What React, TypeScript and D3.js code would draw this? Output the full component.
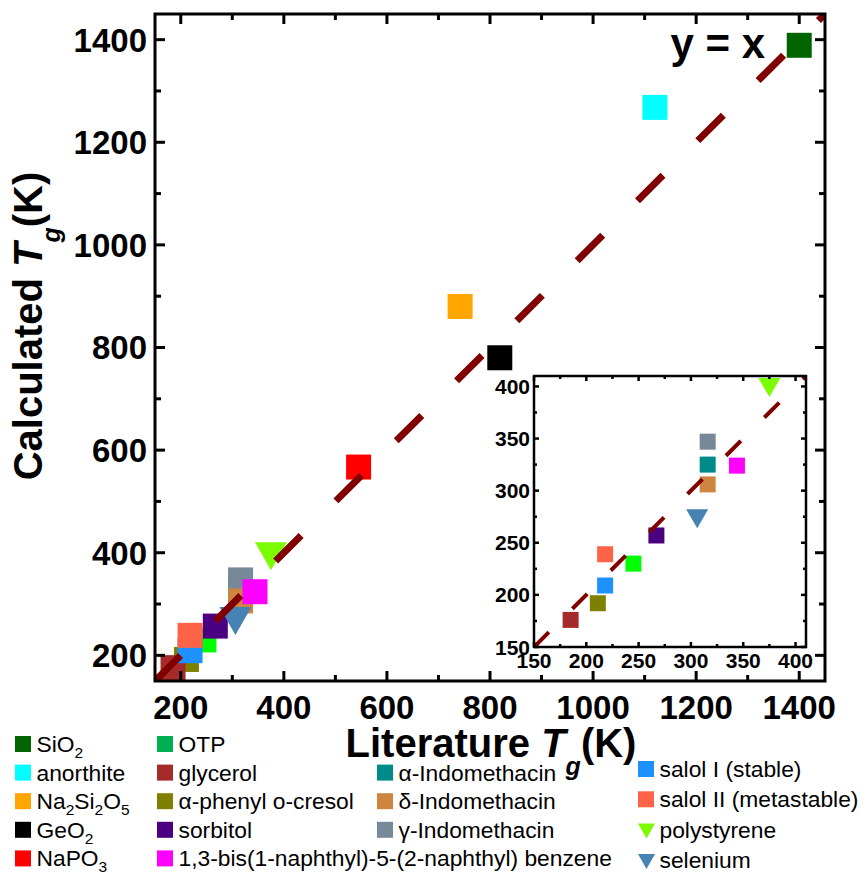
import React from 'react';
import * as d3 from 'd3';

// series, in legend order
const names = [
  'SiO_2', 'anorthite', 'Na_2Si_2O_5', 'GeO_2', 'NaPO_3',
  'OTP', 'glycerol', 'α-phenyl o-cresol', 'sorbitol', '1,3-bis(1-naphthyl)-5-(2-naphthyl) benzene',
  'α-Indomethacin', 'δ-Indomethacin', 'γ-Indomethacin',
  'salol I (stable)', 'salol II (metastable)', 'polystyrene', 'selenium',
];
const colors = [
  '#006400', '#00FFFF', '#FFA500', '#000000', '#FF0000',
  '#00FF00', '#A52A2A', '#808000', '#4B0082', '#FF00FF',
  '#008B8B', '#CD853F', '#778899',
  '#1E90FF', '#FF6347', '#7CFC00', '#4682B4',
];
const legendColors = colors.map((c, i) => (names[i] === 'OTP' ? '#00B050' : c));
const shapes = names.map(n => (n === 'polystyrene' || n === 'selenium' ? 'tri' : 'sq'));

const literatureTg = [1400, 1120, 742, 819, 545, 245, 185, 211, 267, 344, 316, 316, 316, 218, 218, 375, 306];
const calculatedTg = [1389, 1268, 880, 780, 567, 230, 176, 192, 257, 324, 325, 306, 347, 209, 239, 402, 276];

// order the markers are painted in (later on top)
const drawOrder = [0, 1, 2, 3, 4, 5, 7, 6, 8, 13, 14, 10, 12, 11, 9, 16, 15];

const mainDomain = [150, 1450];
const mainMajor = [200, 400, 600, 800, 1000, 1200, 1400];
const mainMinor = [300, 500, 700, 900, 1100, 1300];
const insetDomain = [150, 410];
const insetMajor = [150, 200, 250, 300, 350, 400];
const insetMinor = [175, 225, 275, 325, 375];

const FONT = "'Liberation Sans', Arial, Helvetica, sans-serif";
const LINE = '#800000';

function rich(name: string, sub: number, shift: number) {
  const parts = name.split(/_(\d)/);
  return parts.map((p, i) =>
    i % 2 === 1 ? (
      <tspan key={i} fontSize={sub} dy={shift}>{p}</tspan>
    ) : (
      <tspan key={i} dy={i > 0 ? -shift : 0}>{p}</tspan>
    )
  );
}

function marker(shape: string, x: number, y: number, s: number, tw: number, th: number, color: string, key: any) {
  if (shape === 'tri') {
    const pts = [[x - tw / 2, y - th / 3], [x + tw / 2, y - th / 3], [x, y + (2 * th) / 3]];
    return <polygon key={key} points={pts.map(p => p.join(',')).join(' ')} fill={color} />;
  }
  return <rect key={key} x={x - s / 2} y={y - s / 2} width={s} height={s} fill={color} />;
}

function Frame({ box, domain, major, minor, majLen, minLen, sw, fontSize, labelGap, labelBase, lineW, dash, sq, tw, th, id, showYx }: any) {
  const x = d3.scaleLinear().domain(domain).range([box.left, box.right]);
  const y = d3.scaleLinear().domain(domain).range([box.bottom, box.top]);
  const diag = d3.line<number>().x(d => x(d)).y(d => y(d))([domain[0], domain[1]]) || '';
  const ticks: any[] = [];
  const addTicks = (vals: number[], len: number, cls: string) => {
    vals.forEach(v => {
      ticks.push(<line key={cls + 'b' + v} x1={x(v)} x2={x(v)} y1={box.bottom} y2={box.bottom - len} />);
      ticks.push(<line key={cls + 't' + v} x1={x(v)} x2={x(v)} y1={box.top} y2={box.top + len} />);
      ticks.push(<line key={cls + 'l' + v} x1={box.left} x2={box.left + len} y1={y(v)} y2={y(v)} />);
      ticks.push(<line key={cls + 'r' + v} x1={box.right} x2={box.right - len} y1={y(v)} y2={y(v)} />);
    });
  };
  addTicks(major, majLen, 'M');
  addTicks(minor, minLen, 'm');
  return (
    <g>
      <defs>
        <clipPath id={id}>
          <rect x={box.left} y={box.top} width={box.right - box.left} height={box.bottom - box.top} />
        </clipPath>
      </defs>
      <rect x={box.left} y={box.top} width={box.right - box.left} height={box.bottom - box.top} fill="#fff" />
      <g clipPath={`url(#${id})`}>
        {drawOrder.map(i =>
          marker(shapes[i], x(literatureTg[i]), y(calculatedTg[i]), sq, tw, th, colors[i], i)
        )}
        <path d={diag} stroke={LINE} strokeWidth={lineW} strokeDasharray={dash} fill="none" />
      </g>
      {showYx && (
        <text x={765} y={58} fontSize={42} fontWeight="bold" textAnchor="end" fontFamily={FONT}>y = x</text>
      )}
      <g stroke="#000" strokeWidth={sw}>{ticks}</g>
      <rect x={box.left} y={box.top} width={box.right - box.left} height={box.bottom - box.top} fill="none" stroke="#000" strokeWidth={sw} />
      <g fontFamily={FONT} fontWeight="bold" fontSize={fontSize} fill="#000">
        {major.map((v: number) => (
          <text key={'yl' + v} x={box.left - labelGap} y={y(v)} dy="0.36em" textAnchor="end">{v}</text>
        ))}
        {major.map((v: number) => (
          <text key={'xl' + v} x={x(v)} y={box.bottom + labelBase} textAnchor="middle">{v}</text>
        ))}
      </g>
    </g>
  );
}

export default function App() {
  const mainBox = { left: 155, right: 825, top: 14, bottom: 681 };
  const insetBox = { left: 534, right: 806, top: 376, bottom: 647 };

  const legendCols = [
    { x: 15, items: [0, 1, 2, 3, 4], base: 752, step: 28.6 },
    { x: 157, items: [5, 6, 7, 8, 9], base: 752, step: 28.6 },
    { x: 377, items: [10, 11, 12], base: 780.6, step: 28.6 },
    { x: 638, items: [13, 14, 15, 16], base: 777, step: 30.3 },
  ];

  return (
    <svg width={861} height={875} style={{ position: 'absolute', left: 0, top: 0, background: '#fff' }}>
      <rect width={861} height={875} fill="#fff" />
      <Frame box={mainBox} domain={mainDomain} major={mainMajor} minor={mainMinor} majLen={10} minLen={6}
        sw={3} fontSize={33} labelGap={8} labelBase={38} lineW={7} dash="36,49.1" sq={25} tw={32} th={28} id="clipMain" showYx />
      <Frame box={insetBox} domain={insetDomain} major={insetMajor} minor={insetMinor} majLen={5} minLen={3}
        sw={2.5} fontSize={21} labelGap={4} labelBase={21} lineW={4} dash="21,33.2" sq={16} tw={22} th={19} id="clipInset" />

      <g fontFamily={FONT} fontWeight="bold" fontSize={40} fill="#000">
        <text x={491} y={757} textAnchor="middle">
          <tspan>Literature </tspan>
          <tspan fontStyle="italic">T</tspan>
          <tspan fontStyle="italic" fontSize={25} dy={18}>g</tspan>
          <tspan dy={-18}>(K)</tspan>
        </text>
        <text transform="translate(42,326) rotate(-90)" textAnchor="middle">
          <tspan>Calculated </tspan>
          <tspan fontStyle="italic">T</tspan>
          <tspan fontStyle="italic" fontSize={25} dy={18}>g</tspan>
          <tspan dy={-18}>(K)</tspan>
        </text>
      </g>

      <g fontFamily={FONT} fontSize={22.8} fill="#000">
        {legendCols.map((col, ci) =>
          col.items.map((i, r) => {
            const b = col.base + r * col.step;
            const sym = shapes[i] === 'tri'
              ? <polygon points={`${col.x},${b - 14} ${col.x + 17},${b - 14} ${col.x + 8.5},${b + 1}`} fill={legendColors[i]} />
              : <rect x={col.x} y={b - 16} width={16} height={16} fill={legendColors[i]} />;
            return (
              <g key={ci + '-' + r}>
                {sym}
                <text x={col.x + 21.5} y={b}>{rich(names[i], 15.5, 6)}</text>
              </g>
            );
          })
        )}
      </g>
    </svg>
  );
}
